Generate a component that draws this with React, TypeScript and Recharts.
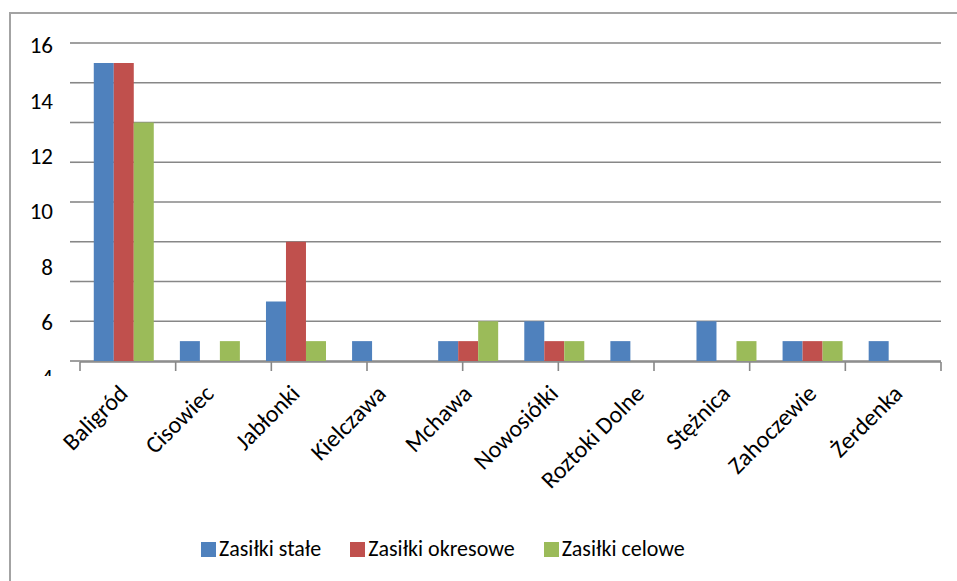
import { BarChart, Bar, XAxis, YAxis, CartesianGrid, Legend } from 'recharts';

// --- data ---
const categories = [
  'Baligród',
  'Cisowiec',
  'Jabłonki',
  'Kielczawa',
  'Mchawa',
  'Nowosiółki',
  'Roztoki Dolne',
  'Stężnica',
  'Zahoczewie',
  'Żerdenka',
];
const zasilkiStale = [15, 1, 3, 1, 1, 2, 1, 2, 1, 1];
const zasilkiOkresowe = [15, 0, 6, 0, 1, 1, 0, 0, 1, 0];
const zasilkiCelowe = [12, 1, 1, 0, 2, 1, 0, 1, 1, 0];

// gridlines every 2 units, labels drawn on their own (offset) scale as in the source image
const gridTicks = [0, 2, 4, 6, 8, 10, 12, 14, 16];
const labelTicks = [4, 6, 8, 10, 12, 14, 16];
const edgeTicks = [0, 1, 2, 3, 4, 5, 6, 7, 8, 9, 10];

const series = [
  { key: 'stale', label: 'Zasiłki stałe', color: '#4F81BD' },
  { key: 'okresowe', label: 'Zasiłki okresowe', color: '#C0504D' },
  { key: 'celowe', label: 'Zasiłki celowe', color: '#9BBB59' },
];

const data = categories.map((name, i) => ({
  name,
  stale: zasilkiStale[i],
  okresowe: zasilkiOkresowe[i],
  celowe: zasilkiCelowe[i],
}));

const FONT = 'Carlito, Lato, sans-serif';
const GRID = '#878787';

const EmptyTick = () => <g />;

function ValueTick({ y, payload }: any) {
  const clip = payload.value === 4;
  return (
    <g>
      {clip && (
        <defs>
          <clipPath id="ylab-clip">
            <rect x={0} y={0} width={80} height={376} />
          </clipPath>
        </defs>
      )}
      <text
        x={53}
        y={y}
        dy="0.36em"
        textAnchor="end"
        fontSize={23}
        fontFamily={FONT}
        fill="#000"
        clipPath={clip ? 'url(#ylab-clip)' : undefined}
      >
        {payload.value}
      </text>
    </g>
  );
}

function CategoryTick({ x, payload }: any) {
  const ax = x + 6;
  const ay = 395;
  return (
    <text
      x={ax}
      y={ay}
      textAnchor="end"
      fontSize={24}
      fontFamily={FONT}
      fill="#000"
      transform={`rotate(-45, ${ax}, ${ay})`}
    >
      {payload.value}
    </text>
  );
}

function LegendContent() {
  return (
    <div style={{ display: 'flex', alignItems: 'center', paddingLeft: 201, fontFamily: FONT, fontSize: 22 }}>
      {series.map((s) => (
        <div key={s.key} style={{ display: 'flex', alignItems: 'center', marginRight: 29 }}>
          <span style={{ width: 15, height: 15, background: s.color, marginRight: 3 }} />
          <span style={{ color: '#000', lineHeight: '22px' }}>{s.label}</span>
        </div>
      ))}
    </div>
  );
}

export default function App() {
  return (
    <div
      style={{
        position: 'fixed',
        left: 0,
        top: 0,
        width: 957,
        height: 581,
        overflow: 'hidden',
        background: '#fff',
      }}
    >
      <div
        style={{
          position: 'absolute',
          left: 9,
          top: 12,
          width: 980,
          height: 600,
          border: '2px solid #a3a3a3',
        }}
      />
      <div style={{ position: 'absolute', left: 0, top: 0 }}>
        <BarChart
          width={957}
          height={581}
          data={data}
          margin={{ top: 43, right: 16, bottom: 218, left: 78 }}
          barCategoryGap="16%"
          barGap={0}
        >
          <CartesianGrid
            xAxisId="cat"
            yAxisId="grid"
            vertical={false}
            stroke={GRID}
            strokeWidth={1.6}
          />
          <XAxis
            xAxisId="cat"
            dataKey="name"
            height={1}
            axisLine={false}
            tickLine={false}
            interval={0}
            tick={<CategoryTick />}
          />
          <XAxis
            xAxisId="edges"
            type="number"
            domain={[0, 10]}
            ticks={edgeTicks}
            allowDataOverflow
            height={1}
            interval={0}
            tick={EmptyTick}
            tickSize={9}
            tickLine={{ stroke: GRID, strokeWidth: 1.6 }}
            axisLine={{ stroke: GRID, strokeWidth: 1.6 }}
          />
          <YAxis
            yAxisId="grid"
            domain={[0, 16]}
            ticks={gridTicks}
            width={1}
            interval={0}
            axisLine={false}
            tick={EmptyTick}
            tickSize={10}
            tickLine={{ stroke: GRID, strokeWidth: 1.6 }}
          />
          <YAxis
            yAxisId="lbl"
            domain={[4.58, 16.07]}
            ticks={labelTicks}
            allowDataOverflow
            width={1}
            interval={0}
            axisLine={false}
            tickLine={false}
            tick={<ValueTick />}
          />
          <Legend
            layout="horizontal"
            verticalAlign="middle"
            align="center"
            wrapperStyle={{ top: 538, left: 0, width: 957 }}
            content={<LegendContent />}
          />
          {series.map((s) => (
            <Bar
              key={s.key}
              xAxisId="cat"
              yAxisId="grid"
              dataKey={s.key}
              name={s.label}
              fill={s.color}
              isAnimationActive={false}
            />
          ))}
        </BarChart>
      </div>
    </div>
  );
}
